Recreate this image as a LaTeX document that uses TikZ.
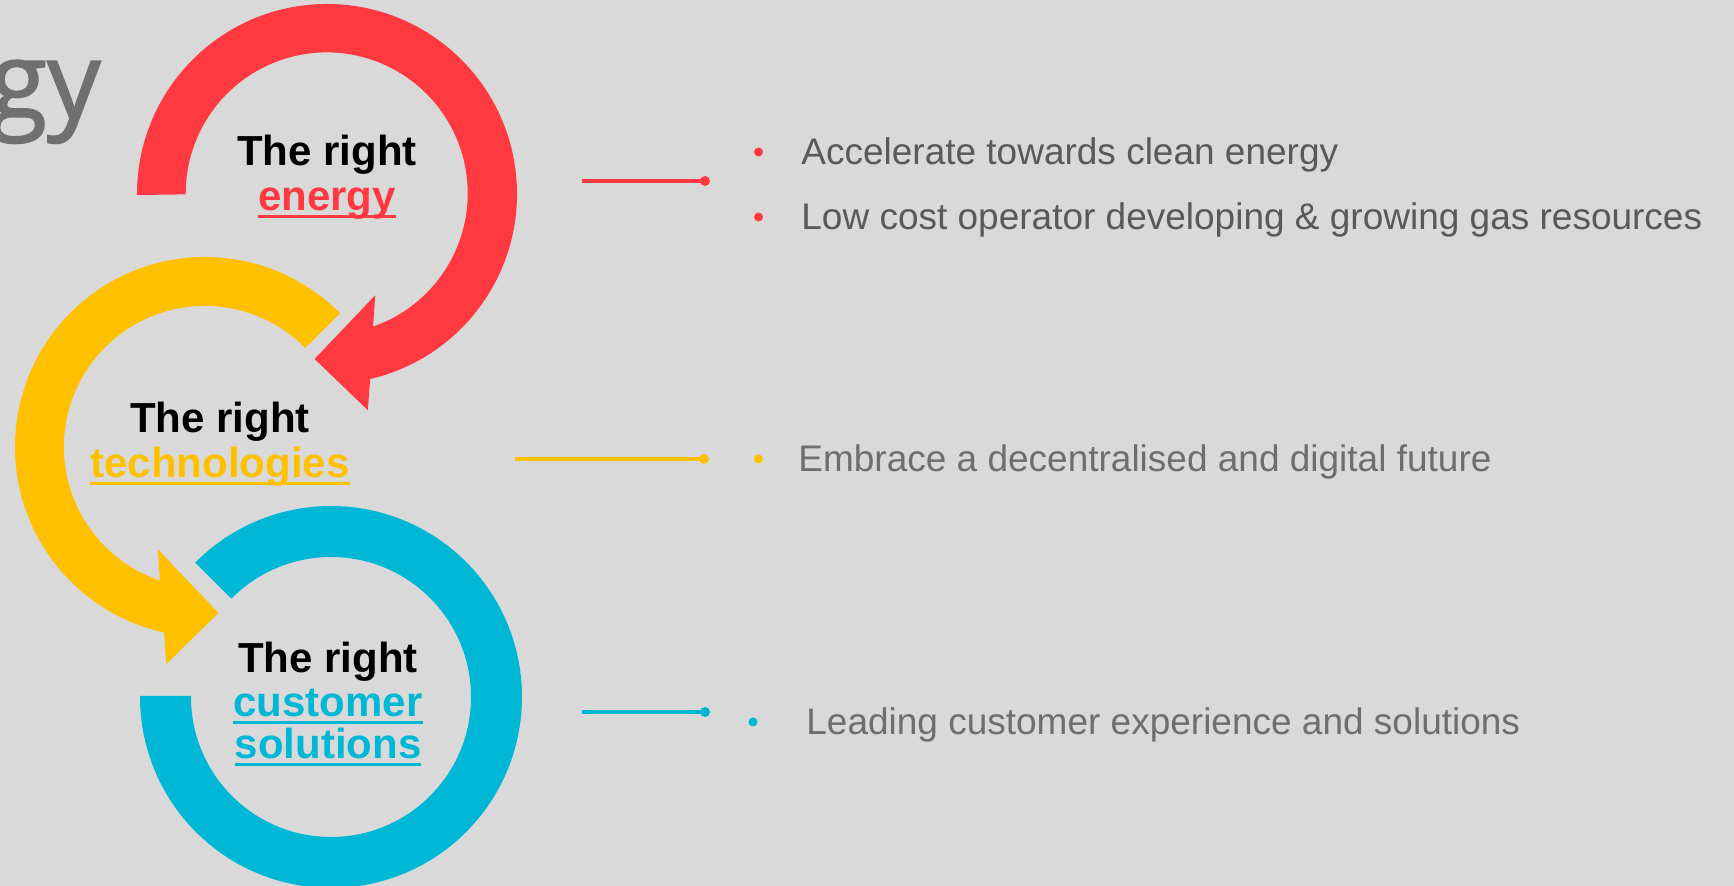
\documentclass[tikz,border=0pt]{standalone}
\usepackage{fontspec}
\setmainfont{Liberation Sans}
\newfontfamily\headfont[FakeBold=1.6]{Open Sans}
\usetikzlibrary{positioning}
\definecolor{bgGray}{HTML}{D9D9D9}
\definecolor{ringRed}{RGB}{255,57,64}
\definecolor{ringYellow}{RGB}{255,192,0}
\definecolor{ringCyan}{RGB}{0,184,214}
\definecolor{bodyDark}{HTML}{595959}
\definecolor{bodyGray}{HTML}{6E6E6E}
\definecolor{headGray}{HTML}{707070}
\newcommand{\ulword}[1]{\setbox0\hbox{#1}\rlap{\rule[-3.75pt]{\wd0}{1.5pt}}\box0}

\begin{document}
\begin{tikzpicture}[x=0.5pt, y=0.5pt,
    ring/.style={draw=white, line width=1pt},
    lbl/.style={font=\fontsize{21pt}{24pt}\selectfont\bfseries, inner sep=0pt, anchor=base},
    item/.style={font=\fontsize{18.5pt}{22pt}\selectfont, inner sep=0pt, anchor=base west},
    link/.style={line width=1.75pt},
    linkdot/.style={circle, fill, inner sep=0pt, minimum size=5pt},
    bullet/.style={circle, fill, inner sep=0pt, minimum size=4.5pt}]
    \fill[bgGray] (0,0) rectangle (1734,886);
    \useasboundingbox (0,0) rectangle (1734,886);

    % heading, cut off at the left
    \node[font=\headfont\fontsize{53pt}{58pt}\selectfont, text=headGray, inner sep=0pt, anchor=base east] (title) at (101,768) {gy};

    % rings
    \fill[ring, ringCyan] (331,189) ++(135:190) arc[start angle=135, end angle=-180, radius=190]
        -- (190,189) arc[start angle=-180, end angle=135, radius=141] -- cycle;
    \fill[ring, ringYellow] (205,439) ++(45:189) arc[start angle=45, end angle=257.8, radius=189]
        -- (167,224) -- (217,273) -- (159,334)
        -- (161,304) arc[start angle=252, end angle=45, radius=142] -- cycle;
    \fill[ring, ringRed] (327,692) ++(180:189) arc[start angle=180, end angle=-77.1, radius=189]
        -- (367,478) -- (316,527) -- (374,588)
        -- (372,558) arc[start angle=-71.4, end angle=180, radius=142] -- cycle;

    % ring labels
    \node[lbl] (energyTop) at (327,720) {The right};
    \node[lbl, text=ringRed] (energy) at (327,675) {\ulword{energy}};
    \node[lbl] (techTop) at (220,453) {The right};
    \node[lbl, text=ringYellow] (tech) at (220,408) {\ulword{technologies}};
    \node[lbl] (custTop) at (328,213) {The right};
    \node[lbl, text=ringCyan] (cust) at (328,169) {\ulword{customer}};
    \node[lbl, text=ringCyan] (custSol) at (328,127) {\ulword{solutions}};

    % connectors
    \coordinate (energyFrom) at (582,705);
    \node[linkdot, ringRed] (energyTo) at (705,705) {};
    \draw[link, ringRed] (energyFrom) -- (energyTo.center);
    \coordinate (techFrom) at (515,427);
    \node[linkdot, ringYellow] (techTo) at (704,427) {};
    \draw[link, ringYellow] (techFrom) -- (techTo.center);
    \coordinate (custFrom) at (582,174);
    \node[linkdot, ringCyan] (custTo) at (705,174) {};
    \draw[link, ringCyan] (custFrom) -- (custTo.center);

    % bullet points
    \node[bullet, ringRed] (dotA) at (758.5,734) {};
    \node[item, text=bodyDark] (itemA) at (801,721) {Accelerate towards clean energy};
    \node[bullet, ringRed] (dotB) at (758.5,669) {};
    \node[item, text=bodyDark] (itemB) at (801,656) {Low cost operator developing \& growing gas resources};
    \node[bullet, ringYellow] (dotC) at (758.5,427) {};
    \node[item, text=bodyGray] (itemC) at (798,414) {Embrace a decentralised and digital future};
    \node[bullet, ringCyan] (dotD) at (753,164) {};
    \node[item, text=bodyGray] (itemD) at (806,151) {Leading customer experience and solutions};
\end{tikzpicture}
\end{document}
